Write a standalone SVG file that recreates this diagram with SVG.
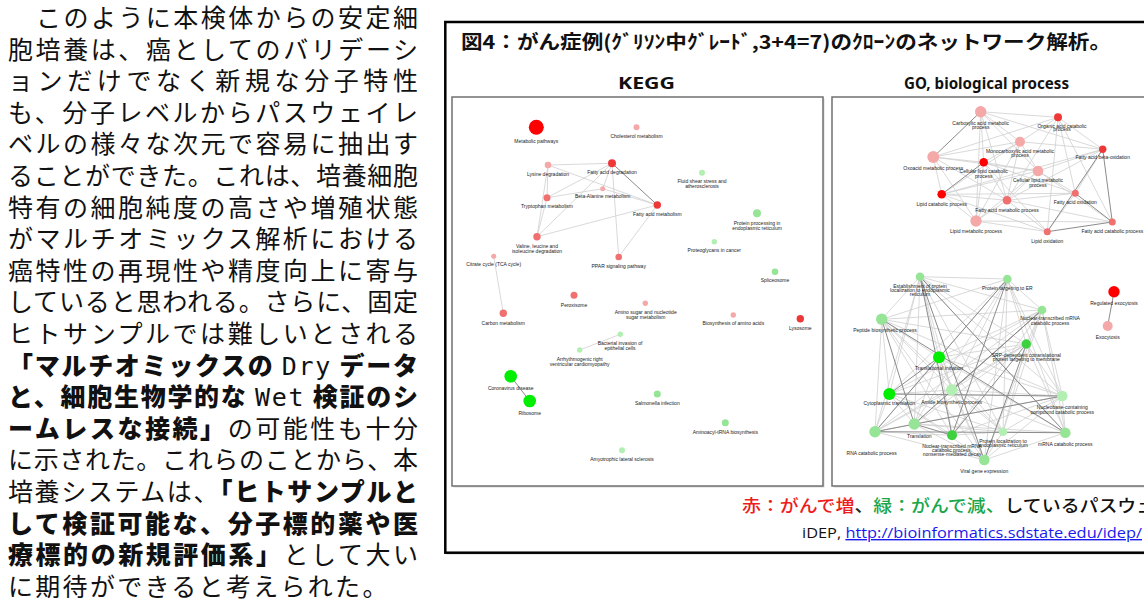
<svg xmlns="http://www.w3.org/2000/svg" width="1144" height="605" viewBox="0 0 1144 605">
<style>
.t{font-family:"Noto Sans CJK JP","Noto Sans CJK SC",sans-serif;font-size:25px;fill:#111}
.b{font-weight:900}
.m{font-family:"DejaVu Sans Mono","Liberation Mono",monospace;font-weight:normal}
.lb{font-family:"Liberation Sans",Arial,sans-serif;font-size:5px;fill:#222;text-anchor:middle}
.e{stroke:#cfcfcf;stroke-width:0.8;fill:none}
.ed{stroke:#8c8c8c;stroke-width:1;fill:none}
.pan{fill:#fff;stroke:#707070;stroke-width:1.5}
.sh{fill:#d8d8d8}
.r1{fill:#ff0000}
.r2{fill:#ee3838}
.r3{fill:#f07070}
.r4{fill:#f5a8a8}
.g1{fill:#00ee00}
.g2{fill:#3dd23d}
.g3{fill:#96e596}
.g4{fill:#b2efb2}
</style>

<!-- left paragraph -->
<g id="paragraph">
<text class="t" x="36" y="27" textLength="382" lengthAdjust="spacing">このように本検体からの安定細</text>
<text class="t" x="8" y="58.6" textLength="410" lengthAdjust="spacing">胞培養は、癌としてのバリデーシ</text>
<text class="t" x="8" y="90.2" textLength="410" lengthAdjust="spacing">ョンだけでなく新規な分子特性</text>
<text class="t" x="8" y="121.8" textLength="410" lengthAdjust="spacing">も、分子レベルからパスウェイレ</text>
<text class="t" x="8" y="153.4" textLength="410" lengthAdjust="spacing">ベルの様々な次元で容易に抽出す</text>
<text class="t" x="8" y="185" textLength="410" lengthAdjust="spacing">ることができた。これは、培養細胞</text>
<text class="t" x="8" y="216.6" textLength="410" lengthAdjust="spacing">特有の細胞純度の高さや増殖状態</text>
<text class="t" x="8" y="248.2" textLength="410" lengthAdjust="spacing">がマルチオミックス解析における</text>
<text class="t" x="8" y="279.8" textLength="410" lengthAdjust="spacing">癌特性の再現性や精度向上に寄与</text>
<text class="t" x="8" y="311.4" textLength="410" lengthAdjust="spacing">していると思われる。さらに、固定</text>
<text class="t" x="8" y="343" textLength="410" lengthAdjust="spacing">ヒトサンプルでは難しいとされる</text>
<text class="t b" x="8" y="374.6" textLength="410" lengthAdjust="spacing">「マルチオミックスの <tspan class="m">Dry</tspan> データ</text>
<text class="t b" x="8" y="406.2" textLength="410" lengthAdjust="spacing">と、細胞生物学的な <tspan class="m">Wet</tspan> 検証のシ</text>
<text class="t" x="8" y="437.8" textLength="410" lengthAdjust="spacing"><tspan class="b">ームレスな接続」</tspan>の可能性も十分</text>
<text class="t" x="8" y="469.4" textLength="410" lengthAdjust="spacing">に示された。これらのことから、本</text>
<text class="t" x="8" y="501" textLength="410" lengthAdjust="spacing">培養システムは、<tspan class="b">「ヒトサンプルと</tspan></text>
<text class="t b" x="8" y="532.6" textLength="410" lengthAdjust="spacing">して検証可能な、分子標的薬や医</text>
<text class="t" x="8" y="564.2" textLength="410" lengthAdjust="spacing"><tspan class="b">療標的の新規評価系」</tspan>として大い</text>
<text class="t" x="8" y="595.8" letter-spacing="2.3">に期待ができると考えられた。</text>
</g>

<!-- figure frame -->
<g id="figure-frame">
<rect x="446.5" y="23.5" width="720" height="531" fill="#cfcfcf"/>
<rect x="445.3" y="22" width="720" height="530.7" fill="#fff" stroke="#000" stroke-width="2.5"/>
<text x="461" y="49" textLength="650" lengthAdjust="spacingAndGlyphs" style="font-family:'Noto Sans CJK JP',sans-serif;font-size:19px;font-weight:700;fill:#111">図4：がん症例(ｸﾞﾘｿﾝ中ｸﾞﾚｰﾄﾞ,3+4=7)のｸﾛｰﾝのネットワーク解析。</text>
<text x="618" y="89" textLength="57" lengthAdjust="spacingAndGlyphs" style="font-family:'Noto Sans',sans-serif;font-size:16px;font-weight:700;fill:#111">KEGG</text>
<text x="904" y="89" textLength="165" lengthAdjust="spacingAndGlyphs" style="font-family:'Noto Sans',sans-serif;font-size:16px;font-weight:700;fill:#111">GO, biological process</text>
<rect class="sh" x="453.5" y="98.5" width="371" height="389"/>
<rect class="pan" x="452" y="97" width="371" height="389"/>
<rect class="sh" x="833.5" y="98.5" width="371" height="389"/>
<rect class="pan" x="832" y="97" width="371" height="389"/>
<text x="742" y="512" textLength="432" lengthAdjust="spacingAndGlyphs" style="font-family:'Noto Sans CJK JP',sans-serif;font-size:17px;font-weight:500"><tspan fill="#ee1c1c">赤：がんで増</tspan><tspan fill="#222">、</tspan><tspan fill="#1aa64a">緑：がんで減、</tspan><tspan fill="#111">しているパスウェイ</tspan></text>
<text x="802" y="538" textLength="340" lengthAdjust="spacingAndGlyphs" style="font-family:'Open Sans',sans-serif;font-size:14px;fill:#111">iDEP, <tspan fill="#1a1aee" text-decoration="underline">http://bioinformatics.sdstate.edu/idep/</tspan></text>
</g>

<!-- connectors -->
<g id="connectors">
<path class="e" d="M548,165L612,163.3M548,165L547,197.7M548,165L537,236.7M548,165L657.3,205M612,163.3L547,197.7M612,163.3L537,236.7M612,163.3L618.7,257M612,163.3L602.7,188.7M602.7,188.7L547,197.7M602.7,188.7L657.3,205M547,197.7L537,236.7M537,236.7L657.3,205M618.7,257L657.3,205M493.7,256.3L503.3,313.3M620.3,334.3L579.7,350"/>
<path class="ed" d="M612,163.3L657.3,205M510.7,376.3L529.7,401"/>
<path class="e" d="M980.7,111.7L1058,117.3M980.7,111.7L1020,141.7M980.7,111.7L983.7,162.3M980.7,111.7L1007,200.3M980.7,111.7L976,221M980.7,111.7L1038,171M980.7,111.7L1102.7,149.3M1058,117.3L1020,141.7M1058,117.3L933.3,157M1058,117.3L1102.7,149.3M1058,117.3L1047.3,231.7M1058,117.3L1075.3,193.3M1058,117.3L1007,200.3M1058,117.3L1112.3,222M1020,141.7L933.3,157M1020,141.7L983.7,162.3M1020,141.7L1007,200.3M1020,141.7L1038,171M1020,141.7L1102.7,149.3M1020,141.7L976,221M1020,141.7L941.7,194.3M1102.7,149.3L1075.3,193.3M1102.7,149.3L1038,171M1102.7,149.3L941.7,194.3M1102.7,149.3L1007,200.3M933.3,157L983.7,162.3M933.3,157L941.7,194.3M933.3,157L976,221M933.3,157L1038,171M933.3,157L1007,200.3M983.7,162.3L1007,200.3M983.7,162.3L1075.3,193.3M983.7,162.3L1047.3,231.7M983.7,162.3L1038,171M983.7,162.3L976,221M1038,171L941.7,194.3M1038,171L1007,200.3M1038,171L1075.3,193.3M1038,171L976,221M1038,171L1112.3,222M941.7,194.3L1007,200.3M941.7,194.3L976,221M941.7,194.3L1075.3,193.3M941.7,194.3L1047.3,231.7M1007,200.3L976,221M1007,200.3L1047.3,231.7M1007,200.3L1112.3,222M1007,200.3L1075.3,193.3M1075.3,193.3L1047.3,231.7M976,221L1047.3,231.7M976,221L1112.3,222"/>
<path class="ed" d="M980.7,111.7L933.3,157M1102.7,149.3L1112.3,222M1102.7,149.3L1047.3,231.7M1075.3,193.3L1112.3,222M983.7,162.3L941.7,194.3M1047.3,231.7L1112.3,222M1114,291.7L1107.7,326"/>
<path class="e" d="M920,276.7L1007.3,279M920,276.7L1042,310M920,276.7L881.7,319.3M920,276.7L1026.3,344M920,276.7L939,357.3M920,276.7L951.7,390M920,276.7L889.3,394M920,276.7L1062.3,396M920,276.7L914.3,424M920,276.7L1003,431.7M920,276.7L1065.3,432.7M920,276.7L875,431.7M1007.3,279L1042,310M1007.3,279L881.7,319.3M1007.3,279L1026.3,344M1007.3,279L939,357.3M1007.3,279L951.7,390M1007.3,279L889.3,394M1007.3,279L1062.3,396M1007.3,279L914.3,424M1007.3,279L1003,431.7M1007.3,279L1065.3,432.7M1007.3,279L984.3,460M1042,310L881.7,319.3M1042,310L1026.3,344M1042,310L939,357.3M1042,310L889.3,394M1042,310L1062.3,396M1042,310L952,435.3M1042,310L1003,431.7M1042,310L1065.3,432.7M1042,310L875,431.7M1042,310L984.3,460M881.7,319.3L1026.3,344M881.7,319.3L939,357.3M881.7,319.3L951.7,390M881.7,319.3L889.3,394M881.7,319.3L1062.3,396M881.7,319.3L952,435.3M881.7,319.3L1003,431.7M881.7,319.3L875,431.7M881.7,319.3L984.3,460M1026.3,344L939,357.3M1026.3,344L951.7,390M1026.3,344L889.3,394M1026.3,344L1062.3,396M1026.3,344L914.3,424M1026.3,344L1003,431.7M1026.3,344L1065.3,432.7M1026.3,344L875,431.7M939,357.3L951.7,390M939,357.3L1062.3,396M939,357.3L914.3,424M939,357.3L952,435.3M939,357.3L1003,431.7M939,357.3L1065.3,432.7M939,357.3L875,431.7M939,357.3L984.3,460M951.7,390L889.3,394M951.7,390L1062.3,396M951.7,390L914.3,424M951.7,390L1003,431.7M951.7,390L1065.3,432.7M951.7,390L875,431.7M951.7,390L984.3,460M889.3,394L1062.3,396M889.3,394L914.3,424M889.3,394L952,435.3M889.3,394L1003,431.7M889.3,394L875,431.7M889.3,394L984.3,460M1062.3,396L914.3,424M1062.3,396L952,435.3M1062.3,396L1003,431.7M1062.3,396L1065.3,432.7M1062.3,396L984.3,460M914.3,424L1003,431.7M914.3,424L1065.3,432.7M914.3,424L875,431.7M914.3,424L984.3,460M952,435.3L1003,431.7M952,435.3L875,431.7M1003,431.7L1065.3,432.7M1003,431.7L984.3,460M1065.3,432.7L984.3,460M875,431.7L984.3,460"/>
<path class="ed" d="M920,276.7L952,435.3M920,276.7L984.3,460M1007.3,279L875,431.7M1007.3,279L952,435.3M1042,310L914.3,424M1042,310L951.7,390M881.7,319.3L914.3,424M881.7,319.3L1065.3,432.7M1026.3,344L984.3,460M1026.3,344L952,435.3M939,357.3L889.3,394M1062.3,396L889.3,394M875,431.7L1065.3,432.7M914.3,424L952,435.3M1062.3,396L875,431.7M920,276.7L1065.3,432.7"/>
</g>

<!-- KEGG nodes -->
<g id="k-metabolic"><circle class="r1" cx="536.3" cy="127.3" r="7.5"/><text class="lb" x="536.3" y="142.5">Metabolic pathways</text></g>
<g id="k-cholesterol"><circle class="r4" cx="636.5" cy="127.3" r="3"/><text class="lb" x="636.5" y="138">Cholesterol metabolism</text></g>
<g id="k-lysine"><circle class="r4" cx="548" cy="165" r="3.3"/><text class="lb" x="548" y="175.5">Lysine degradation</text></g>
<g id="k-fad"><circle class="r2" cx="612" cy="163.3" r="4"/><text class="lb" x="612" y="174">Fatty acid degradation</text></g>
<g id="k-beta"><circle class="r4" cx="602.7" cy="188.7" r="2.5"/><text class="lb" x="602.7" y="198">Beta-Alanine metabolism</text></g>
<g id="k-tryptophan"><circle class="r3" cx="547" cy="197.7" r="3.5"/><text class="lb" x="547" y="208">Tryptophan metabolism</text></g>
<g id="k-fam"><circle class="r2" cx="657.3" cy="205" r="3.7"/><text class="lb" x="657.3" y="215.8">Fatty acid metabolism</text></g>
<g id="k-valine"><circle class="r3" cx="537" cy="236.7" r="3.7"/><text class="lb" x="537" y="247.5">Valine, leucine and</text><text class="lb" x="537" y="252.7">isoleucine degradation</text></g>
<g id="k-citrate"><circle class="r4" cx="493.7" cy="256.3" r="2.5"/><text class="lb" x="493.7" y="266">Citrate cycle (TCA cycle)</text></g>
<g id="k-ppar"><circle class="r3" cx="618.7" cy="257" r="3.3"/><text class="lb" x="618.7" y="267.5">PPAR signaling pathway</text></g>
<g id="k-fluid"><circle class="g4" cx="702" cy="172.7" r="3"/><text class="lb" x="702" y="182.5">Fluid shear stress and</text><text class="lb" x="702" y="187.8">atherosclerosis</text></g>
<g id="k-protein"><circle class="g3" cx="757" cy="213.3" r="4"/><text class="lb" x="757" y="224.5">Protein processing in</text><text class="lb" x="757" y="230">endoplasmic reticulum</text></g>
<g id="k-proteoglycans"><circle class="g4" cx="714.3" cy="241.7" r="2.7"/><text class="lb" x="714.3" y="251.5">Proteoglycans in cancer</text></g>
<g id="k-spliceosome"><circle class="g3" cx="775" cy="271.7" r="3.3"/><text class="lb" x="775" y="282">Spliceosome</text></g>
<g id="k-peroxisome"><circle class="r3" cx="574" cy="295.3" r="3.5"/><text class="lb" x="574" y="306.5">Peroxisome</text></g>
<g id="k-carbon"><circle class="r3" cx="503.3" cy="313.3" r="3.7"/><text class="lb" x="503.3" y="324.5">Carbon metabolism</text></g>
<g id="k-aminosugar"><circle class="r4" cx="645.3" cy="303.3" r="2.7"/><text class="lb" x="645.7" y="313.5">Amino sugar and nucleotide</text><text class="lb" x="645.7" y="319">sugar metabolism</text></g>
<g id="k-biosynthesis"><circle class="r4" cx="733.3" cy="315" r="2.7"/><text class="lb" x="733.3" y="325">Biosynthesis of amino acids</text></g>
<g id="k-lysosome"><circle class="r2" cx="800.3" cy="318.7" r="3.7"/><text class="lb" x="800.3" y="329.5">Lysosome</text></g>
<g id="k-bacterial"><circle class="g4" cx="620.3" cy="334.3" r="2.7"/><text class="lb" x="620" y="344.5">Bacterial invasion of</text><text class="lb" x="620" y="349.8">epithelial cells</text></g>
<g id="k-arrhythmogenic"><circle class="g4" cx="579.7" cy="350" r="2.7"/><text class="lb" x="579.7" y="360.5">Arrhythmogenic right</text><text class="lb" x="579.7" y="365.5">ventricular cardiomyopathy</text></g>
<g id="k-coronavirus"><circle class="g1" cx="510.7" cy="376.3" r="6.3"/><text class="lb" x="510.7" y="389.8">Coronavirus disease</text></g>
<g id="k-ribosome"><circle class="g1" cx="529.7" cy="401" r="6.3"/><text class="lb" x="529.7" y="414.5">Ribosome</text></g>
<g id="k-salmonella"><circle class="g3" cx="657.3" cy="394" r="3.5"/><text class="lb" x="657.3" y="404.8">Salmonella infection</text></g>
<g id="k-aminoacyl"><circle class="g3" cx="725.3" cy="422.7" r="3.5"/><text class="lb" x="725.3" y="433.8">Aminoacyl-tRNA biosynthesis</text></g>
<g id="k-amyotrophic"><circle class="g4" cx="622" cy="450.3" r="3"/><text class="lb" x="622" y="460.8">Amyotrophic lateral sclerosis</text></g>

<!-- GO red nodes -->
<g id="go-carboxylic"><circle class="r4" cx="980.7" cy="111.7" r="5.7"/><text class="lb" x="980.7" y="124.8">Carboxylic acid metabolic</text><text class="lb" x="980.7" y="129.2">process</text></g>
<g id="go-organic"><circle class="r2" cx="1058" cy="117.3" r="4"/><text class="lb" x="1062" y="127.5">Organic acid catabolic</text><text class="lb" x="1062" y="131.2">process</text></g>
<g id="go-monocarboxylic"><circle class="r4" cx="1020" cy="141.7" r="5"/><text class="lb" x="1020" y="152.8">Monocarboxylic acid metabolic</text><text class="lb" x="1020" y="157.2">process</text></g>
<g id="go-betaox"><circle class="r2" cx="1102.7" cy="149.3" r="3.7"/><text class="lb" x="1102.7" y="159.2">Fatty acid beta-oxidation</text></g>
<g id="go-oxoacid"><circle class="r4" cx="933.3" cy="157" r="6"/><text class="lb" x="933.3" y="169.5">Oxoacid metabolic process</text></g>
<g id="go-cellcat"><circle class="r1" cx="983.7" cy="162.3" r="4.3"/><text class="lb" x="983.7" y="172.8">Cellular lipid catabolic</text><text class="lb" x="983.7" y="177.5">process</text></g>
<g id="go-cellmet"><circle class="r4" cx="1038" cy="171" r="5.3"/><text class="lb" x="1038" y="182.2">Cellular lipid metabolic</text><text class="lb" x="1038" y="186.8">process</text></g>
<g id="go-lipidcat"><circle class="r1" cx="941.7" cy="194.3" r="4.3"/><text class="lb" x="941.7" y="205.5">Lipid catabolic process</text></g>
<g id="go-famp"><circle class="r3" cx="1007" cy="200.3" r="4.3"/><text class="lb" x="1007" y="211.5">Fatty acid metabolic process</text></g>
<g id="go-faox"><circle class="r3" cx="1075.3" cy="193.3" r="3.5"/><text class="lb" x="1075.3" y="203.5">Fatty acid oxidation</text></g>
<g id="go-lipidmet"><circle class="r4" cx="976" cy="221" r="5.7"/><text class="lb" x="976" y="232.8">Lipid metabolic process</text></g>
<g id="go-lipidox"><circle class="r3" cx="1047.3" cy="231.7" r="3.5"/><text class="lb" x="1047.3" y="242.5">Lipid oxidation</text></g>
<g id="go-facat"><circle class="r3" cx="1112.3" cy="222" r="3.5"/><text class="lb" x="1112.3" y="232.5">Fatty acid catabolic process</text></g>
<g id="go-regexo"><circle class="r1" cx="1114" cy="291.7" r="5.7"/><text class="lb" x="1114" y="305">Regulated exocytosis</text></g>
<g id="go-exo"><circle class="r4" cx="1107.7" cy="326" r="5"/><text class="lb" x="1107.7" y="338.5">Exocytosis</text></g>

<!-- GO green nodes -->
<g id="go-establish"><circle class="g3" cx="920" cy="276.7" r="4.3"/><text class="lb" x="920" y="287.8">Establishment of protein</text><text class="lb" x="920" y="292">localization to endoplasmic</text><text class="lb" x="920" y="296.2">reticulum</text></g>
<g id="go-targeting"><circle class="g3" cx="1007.3" cy="279" r="4.3"/><text class="lb" x="1007.3" y="290">Protein targeting to ER</text></g>
<g id="go-ntmrna"><circle class="g3" cx="1042" cy="310" r="4.3"/><text class="lb" x="1050" y="320">Nuclear-transcribed mRNA</text><text class="lb" x="1050" y="325">catabolic process</text></g>
<g id="go-peptide"><circle class="g3" cx="881.7" cy="319.3" r="5.7"/><text class="lb" x="885" y="331.8">Peptide biosynthetic process</text></g>
<g id="go-srp"><circle class="g2" cx="1026.3" cy="344" r="4.7"/><text class="lb" x="1026.3" y="356.8">SRP-dependent cotranslational</text><text class="lb" x="1026.3" y="361">protein targeting to membrane</text></g>
<g id="go-transinit"><circle class="g1" cx="939" cy="357.3" r="6"/><text class="lb" x="939" y="370">Translational initiation</text></g>
<g id="go-amide"><circle class="g4" cx="951.7" cy="390" r="5.7"/><text class="lb" x="951.7" y="403.5">Amide biosynthetic process</text></g>
<g id="go-cytotrans"><circle class="g1" cx="889.3" cy="394" r="6"/><text class="lb" x="889.3" y="405">Cytoplasmic translation</text></g>
<g id="go-nucleobase"><circle class="g4" cx="1062.3" cy="396" r="5.3"/><text class="lb" x="1062.3" y="409">Nucleobase-containing</text><text class="lb" x="1062.3" y="413.7">compound catabolic process</text></g>
<g id="go-translation"><circle class="g3" cx="914.3" cy="424" r="5.7"/><text class="lb" x="919.3" y="437.8">Translation</text></g>
<g id="go-nmd"><circle class="g2" cx="952" cy="435.3" r="5"/><text class="lb" x="952" y="447.8">Nuclear-transcribed mRNA</text><text class="lb" x="952" y="452">catabolic process,</text><text class="lb" x="952" y="456.4">nonsense-mediated decay</text></g>
<g id="go-protloc"><circle class="g4" cx="1003" cy="431.7" r="4.3"/><text class="lb" x="1003" y="442.5">Protein localization to</text><text class="lb" x="1003" y="446.8">endoplasmic reticulum</text></g>
<g id="go-mrnacat"><circle class="g3" cx="1065.3" cy="432.7" r="5.3"/><text class="lb" x="1065.3" y="445.5">mRNA catabolic process</text></g>
<g id="go-rnacat"><circle class="g3" cx="875" cy="431.7" r="5.7"/><text class="lb" x="871.7" y="454.5">RNA catabolic process</text></g>
<g id="go-viral"><circle class="g3" cx="984.3" cy="460" r="5.3"/><text class="lb" x="984.3" y="472.5">Viral gene expression</text></g>
</svg>
